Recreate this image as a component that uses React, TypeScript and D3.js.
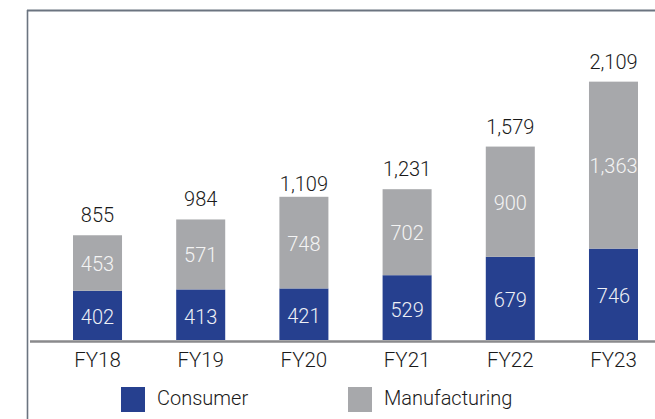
import React from "react";
import * as d3 from "d3";

const years = ["FY18", "FY19", "FY20", "FY21", "FY22", "FY23"];
const consumer = [402, 413, 421, 529, 679, 746];
const manufacturing = [453, 571, 748, 702, 900, 1363];
const totals = [855, 984, 1109, 1231, 1579, 2109];
const seriesNames = ["Consumer", "Manufacturing"];

const W = 655;
const H = 419;
const BLUE = "#26408f";
const GRAY = "#a7a8ab";
const FONT = "Roboto, 'Liberation Sans', Arial, sans-serif";

export default function App() {
  const x = d3.scaleBand<string>().domain(years).range([73, 638]).paddingInner(0.525).paddingOuter(0);
  const y = d3.scaleLinear().domain([0, 2200]).range([340, 340 - 2200 * 0.1225]);
  const fmt = d3.format(",");
  const bw = x.bandwidth();
  return (
    <svg width={W} height={H} style={{ position: "absolute", left: 0, top: 0, background: "#fff" }} fontFamily={FONT} fontWeight={300}>
      <line x1={27.5} y1={10} x2={27.5} y2={H} stroke="#6b7480" strokeWidth={1.6} />
      <line x1={27} y1={10.5} x2={W} y2={10.5} stroke="#6b7480" strokeWidth={1.8} />
      {years.map((yr, i) => {
        const x0 = x(yr)!;
        const cx = x0 + bw / 2;
        const cTop = y(consumer[i]);
        const mTop = y(consumer[i] + manufacturing[i]);
        return (
          <g key={yr}>
            <rect x={x0} y={cTop} width={bw} height={y(0) - cTop} fill={BLUE} />
            <rect x={x0} y={mTop} width={bw} height={cTop - mTop} fill={GRAY} />
            <text x={cx} y={(cTop + y(0)) / 2 + 2} textAnchor="middle" dominantBaseline="central" fontSize={20} fill="#eef0f6">
              {consumer[i]}
            </text>
            <text x={cx} y={(mTop + cTop) / 2 + 1} textAnchor="middle" dominantBaseline="central" fontSize={20} fill="#f4f4f4">
              {fmt(manufacturing[i])}
            </text>
            <text x={cx} y={y(totals[i]) - 13} textAnchor="middle" fontSize={20} fill="#1a1a1a">
              {fmt(totals[i])}
            </text>
            <text x={cx} y={367} textAnchor="middle" fontSize={20.5} fill="#1a1a1a">
              {yr}
            </text>
          </g>
        );
      })}
      <line x1={30} y1={341.5} x2={W} y2={341.5} stroke="#8a8a8c" strokeWidth={2.5} />
      {seriesNames.map((n, i) => {
        const lx = i === 0 ? 121 : 348;
        return (
          <g key={n}>
            <rect x={lx} y={387} width={24} height={25} fill={i === 0 ? BLUE : GRAY} />
            <text x={lx + 36} y={405} fontSize={20} fill="#1a1a1a">
              {n}
            </text>
          </g>
        );
      })}
    </svg>
  );
}
